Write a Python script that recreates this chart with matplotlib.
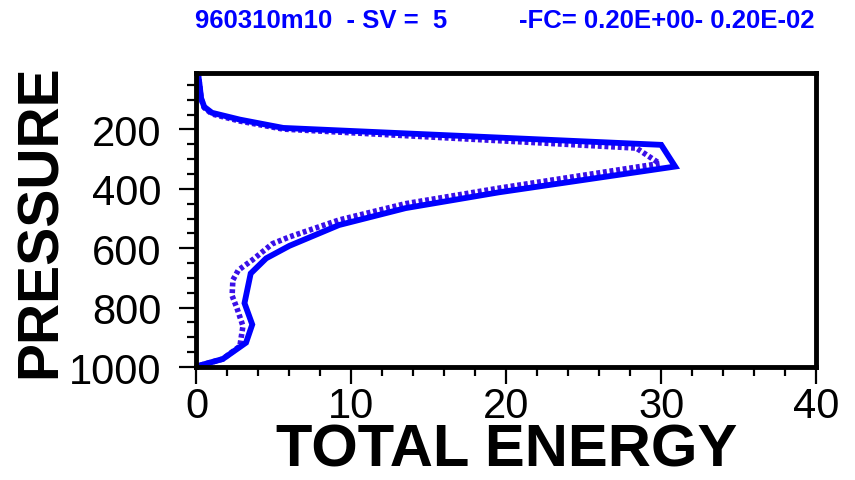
import matplotlib
matplotlib.use("Agg")
import matplotlib.pyplot as plt
from matplotlib.ticker import MultipleLocator, FixedLocator

# Data (x = total energy, p = pressure in hPa)
solid_energy = [0.1, 0.2, 0.3, 0.5, 1.0, 2.8, 5.6, 30.0, 30.9, 19.5, 13.5, 9.2,
                6.0, 4.5, 3.5, 3.1, 3.6, 3.2, 1.7, 0.2, 0.0]
solid_press = [10, 50, 95, 124, 144, 167, 195, 252, 325, 412, 465, 522,
               592, 634, 685, 785, 857, 918, 973, 995, 1000]

dotted_energy = [0.1, 0.2, 0.3, 0.5, 1.0, 2.8, 5.6, 28.4, 29.9, 19.5, 13.5, 9.2,
                 6.0, 4.9, 3.6, 2.7, 2.35, 2.3, 2.6, 3.0, 2.8, 1.7, 0.2, 0.0]
dotted_press = [10, 50, 97, 127, 148, 172, 199, 263, 315, 398, 450, 505,
                562, 585, 640, 674, 707, 760, 800, 862, 930, 973, 995, 1000]

title_left = "960310m10  - SV =  5"
title_right = "-FC= 0.20E+00- 0.20E-02"
xlabel = "TOTAL ENERGY"
ylabel = "PRESSURE"
xticks = [0, 10, 20, 30, 40]
yticks = [200, 400, 600, 800, 1000]

plt.rcParams['font.family'] = ['Liberation Sans', 'DejaVu Sans']

fig = plt.figure(figsize=(8.55, 4.81), dpi=100)
ax = fig.add_axes([0.2298, 0.2349, 0.9545 - 0.2298, 0.8462 - 0.2349])

ax.plot(dotted_energy, dotted_press, color='#3a10e8', lw=4.0,
        linestyle=(0, (0.7, 0.5)), solid_capstyle='butt', zorder=2)
ax.plot(solid_energy, solid_press, color='#0000ff', lw=4.2, zorder=3,
        solid_joinstyle='miter')

ax.set_xlim(0, 40)
ax.set_ylim(1000, 10)
ax.xaxis.set_major_locator(FixedLocator(xticks))
ax.xaxis.set_minor_locator(MultipleLocator(2))
ax.yaxis.set_major_locator(FixedLocator(yticks))
ax.yaxis.set_minor_locator(MultipleLocator(50))

for s in ax.spines.values():
    s.set_linewidth(3.5)
    s.set_zorder(5)

ax.tick_params(axis='both', which='major', direction='out', length=12, width=1.6,
               color='black')
ax.tick_params(axis='both', which='minor', direction='out', length=6.5, width=1.6)
ax.tick_params(axis='x', which='major', labelsize=30, pad=2)
ax.tick_params(axis='y', which='major', labelsize=30, pad=13)

ax.set_xlabel(xlabel, fontsize=43, fontweight='bold')
ax.xaxis.set_label_coords(0.5, -0.19)
ax.set_ylabel(ylabel, fontsize=41, fontweight='bold')
ax.yaxis.set_label_coords(-0.207, 0.5)

fig.text(195 / 855, 1 - 21 / 481, title_left, color='#0000ff', fontsize=18.5,
         fontweight='bold', ha='left', va='center')
fig.text(519 / 855, 1 - 21 / 481, title_right, color='#0000ff', fontsize=18.5,
         fontweight='bold', ha='left', va='center')

fig.savefig("out.png", dpi=100)
